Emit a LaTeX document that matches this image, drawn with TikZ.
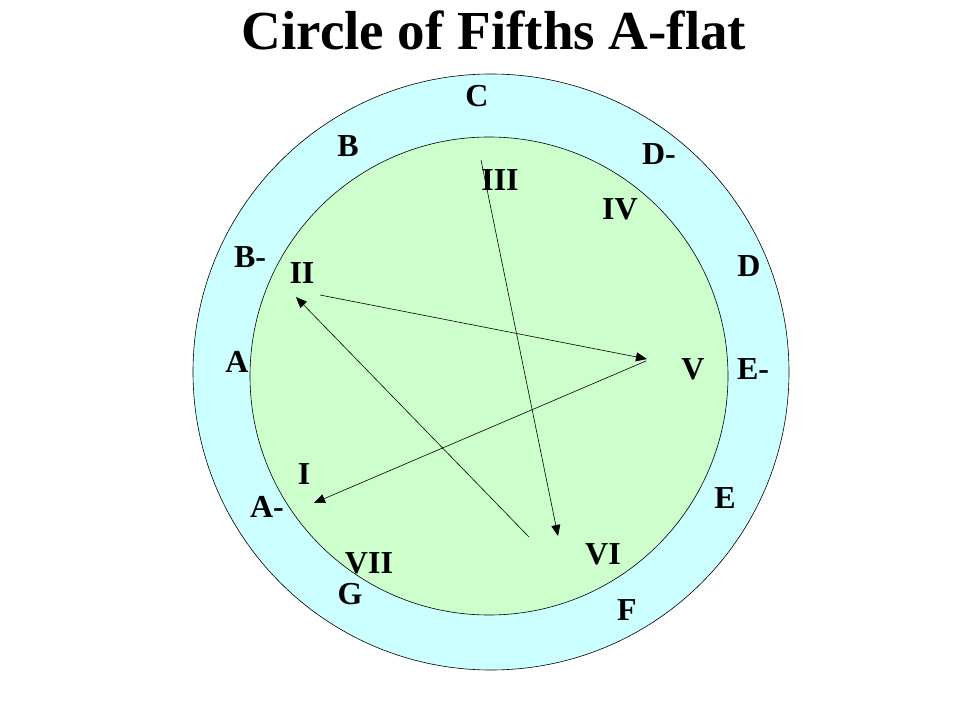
\documentclass[tikz,border=0pt]{standalone}
\usepackage{fontspec}
\setmainfont{Liberation Serif}
\usetikzlibrary{arrows.meta}
\definecolor{ringblue}{HTML}{CCFFFF}
\definecolor{discgreen}{HTML}{CCFFCC}

\begin{document}
\begin{tikzpicture}[
  x=1pt, y=-1pt,
  >={Triangle[length=11pt, width=9pt]},
  ring/.style={circle, draw, line width=0.6pt, inner sep=0pt},
  lbl/.style={font=\fontsize{32}{36}\selectfont\bfseries, inner sep=0pt, anchor=base},
  arr/.style={->, line width=0.6pt}
]
\useasboundingbox (0,0) rectangle (959,719);

% ---------- TITLE ----------
\node[font=\fontsize{55}{60}\selectfont\bfseries, inner sep=0pt, anchor=base] (title) at (494,50) {Circle of Fifths A-flat};

% ---------- CIRCLES ----------
\node[ring, fill=ringblue, minimum size=596pt] (outer) at (491,372) {};
\node[ring, fill=discgreen, minimum size=478pt] (inner) at (489,376) {};

% ---------- KEYS (outer ring) ----------
\node[lbl] (kC)  at (477,107) {C};
\node[lbl] (kDb) at (659,165) {D-};
\node[lbl] (kD)  at (749,277) {D};
\node[lbl] (kEb) at (753,380) {E-};
\node[lbl] (kE)  at (725,508) {E};
\node[lbl] (kF)  at (627,620) {F};
\node[lbl] (kG)  at (350,604) {G};
\node[lbl] (kAb) at (267,517) {A-};
\node[lbl] (kA)  at (237,373) {A};
\node[lbl] (kBb) at (250,268) {B-};
\node[lbl] (kB)  at (348,157) {B};

% ---------- DEGREES (inner disc) ----------
\node[lbl] (dI)   at (304,484) {I};
\node[lbl] (dII)  at (302,284) {II};
\node[lbl] (dIII) at (500,191) {III};
\node[lbl] (dIV)  at (620,220) {IV};
\node[lbl] (dV)   at (693,380) {V};
\node[lbl] (dVI)  at (603,564) {VI};
\node[lbl] (dVII) at (369,573) {VII};

% ---------- PROGRESSION ----------
\coordinate (pIII) at (481,160);
\coordinate (pVI)  at (558,536);
\coordinate (sVI)  at (529,537);
\coordinate (pII)  at (296,297);
\coordinate (sII)  at (320,295);
\coordinate (pV)   at (647,359);
\coordinate (sV)   at (646,361);
\coordinate (pI)   at (314,503);

\draw[arr] (pIII) -- (pVI);
\draw[arr] (sVI) -- (pII);
\draw[arr] (sII) -- (pV);
\draw[arr] (sV) -- (pI);

\end{tikzpicture}
\end{document}
